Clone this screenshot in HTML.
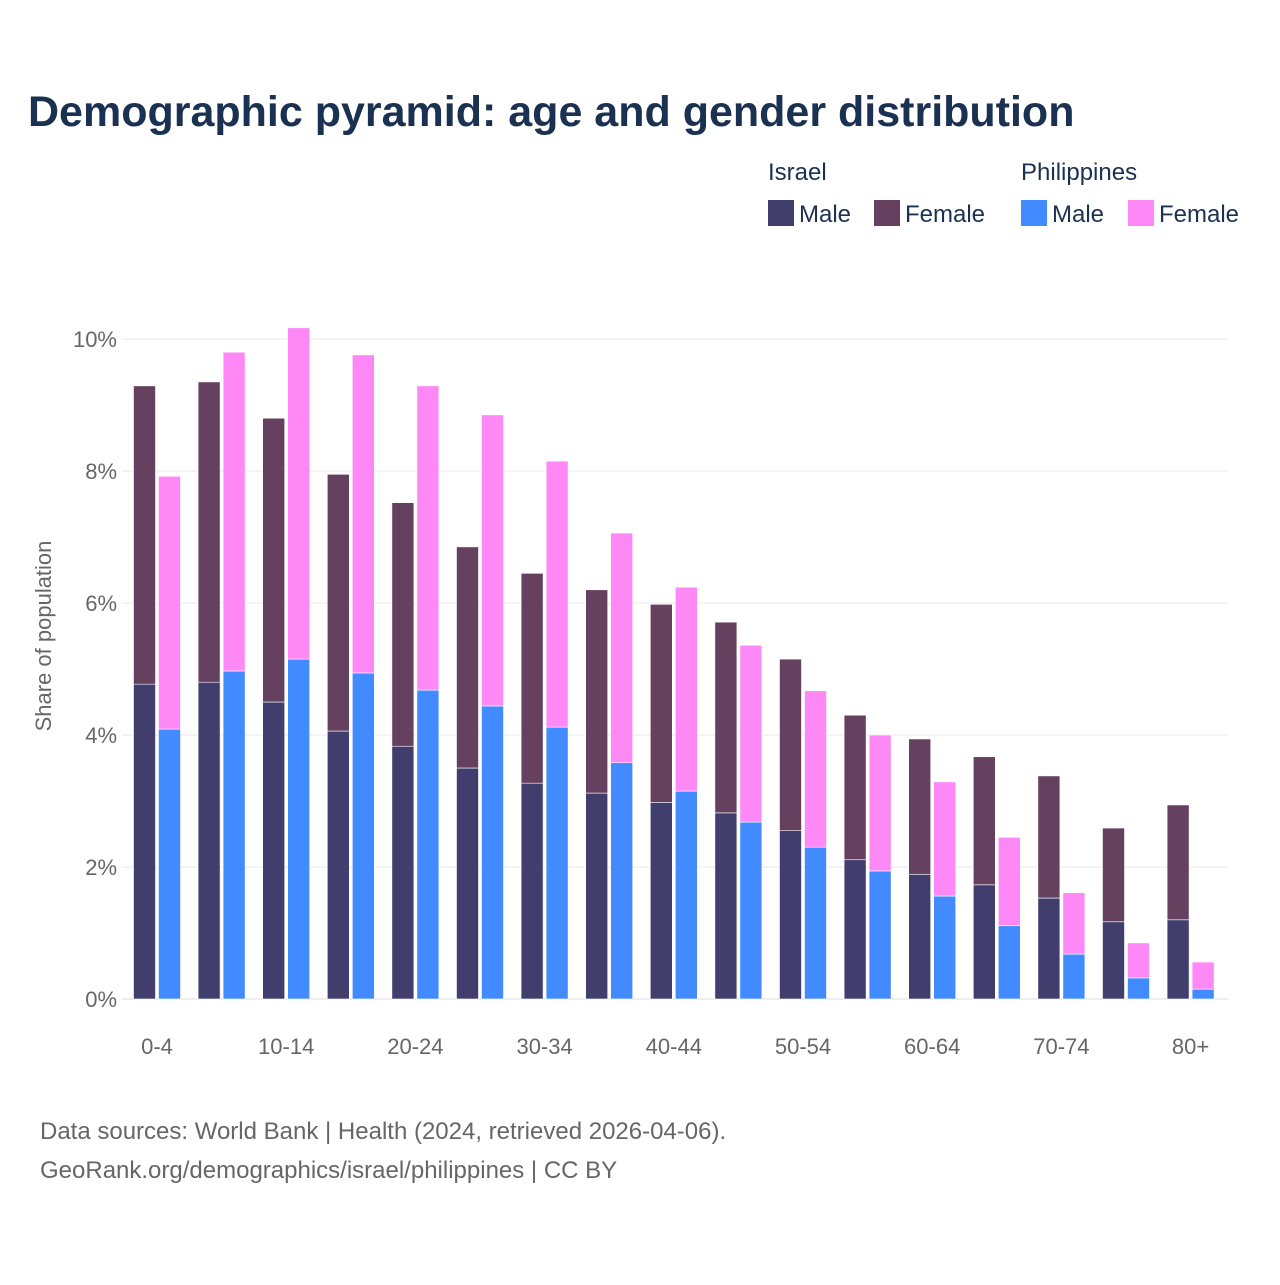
<!DOCTYPE html>
<html><head><meta charset="utf-8"><style>
body{margin:0;width:1280px;height:1280px;background:#fff;font-family:"Liberation Sans",sans-serif;overflow:hidden}
</style></head><body>
<svg width="1280" height="1280" xmlns="http://www.w3.org/2000/svg">
<text x="28" y="126" font-size="43" font-weight="bold" fill="#1a3152">Demographic pyramid: age and gender distribution</text>
<g font-size="24" fill="#1a3152">
<text x="768" y="180">Israel</text>
<text x="1021" y="180">Philippines</text>
<rect x="768" y="200" width="26" height="26" fill="#413e6e"/>
<text x="799" y="222">Male</text>
<rect x="874" y="200" width="26" height="26" fill="#66405f"/>
<text x="905" y="222">Female</text>
<rect x="1021" y="200" width="26" height="26" fill="#418aff"/>
<text x="1052" y="222">Male</text>
<rect x="1128" y="200" width="26" height="26" fill="#ff88f7"/>
<text x="1159" y="222">Female</text>
</g>
<g id="grid"></g>
<g id="bars"></g>
<g id="xlabels"></g>
<text transform="translate(51,636) rotate(-90)" text-anchor="middle" font-size="22" fill="#666">Share of population</text>
<text x="40" y="1139" font-size="24" fill="#666">Data sources: World Bank | Health (2024, retrieved 2026-04-06).</text>
<text x="40" y="1178" font-size="24" fill="#666">GeoRank.org/demographics/israel/philippines | CC BY</text>
</svg>
<script>
const categories=["0-4","5-9","10-14","15-19","20-24","25-29","30-34","35-39","40-44","45-49","50-54","55-59","60-64","65-69","70-74","75-79","80+"];
const israelMale=[4.77,4.80,4.50,4.06,3.83,3.50,3.27,3.12,2.98,2.82,2.55,2.11,1.89,1.73,1.53,1.17,1.20];
const israelFemale=[4.52,4.55,4.30,3.89,3.69,3.35,3.18,3.08,3.00,2.89,2.60,2.19,2.05,1.94,1.85,1.42,1.74];
const philMale=[4.09,4.97,5.15,4.94,4.68,4.44,4.12,3.58,3.15,2.68,2.30,1.94,1.56,1.11,0.68,0.32,0.15];
const philFemale=[3.83,4.83,5.02,4.82,4.61,4.41,4.03,3.48,3.09,2.68,2.37,2.06,1.73,1.34,0.93,0.53,0.41];
const yTicks=[0,2,4,6,8,10];
const NS="http://www.w3.org/2000/svg";
const x0=124.7,step=64.6,yBase=999,pxPer=66;
const y=v=>yBase-v*pxPer;
const xc=i=>x0+step*(i+0.5);
function mk(t,a,p){const e=document.createElementNS(NS,t);for(const k in a)e.setAttribute(k,a[k]);p.appendChild(e);return e;}
const grid=document.getElementById('grid');
yTicks.forEach(t=>{
  const l=mk('line',{x1:122,x2:1228,y1:y(t),y2:y(t),stroke:t===0?'#ddd':'#e8e8e8','stroke-width':1},grid);
  
  
  const tx=mk('text',{x:117,y:y(t)+8,'text-anchor':'end','font-size':22,fill:'#666'},grid);
  tx.textContent=t+'%';
  
  
});
const bars=document.getElementById('bars');
function bar(x,v0,v1,fill,name){
  const r=mk('rect',{x:x,y:y(v1),width:22,height:y(v0)-y(v1),fill:fill,stroke:'#fff','stroke-width':0.6},bars);
  
  
}
categories.forEach((c,i)=>{
  const cx=xc(i);
  bar(cx-23.5,0,israelMale[i],'#413e6e','bar-israel-male');
  bar(cx-23.5,israelMale[i],israelMale[i]+israelFemale[i],'#66405f','bar-israel-female');
  bar(cx+1.5,0,philMale[i],'#418aff','bar-philippines-male');
  bar(cx+1.5,philMale[i],philMale[i]+philFemale[i],'#ff88f7','bar-philippines-female');
  if(i%2===0){
    const t=mk('text',{x:cx,y:1054,'text-anchor':'middle','font-size':22,fill:'#666'},document.getElementById('xlabels'));
    t.textContent=c;
    
    
  }
});
</script>
</body></html>
